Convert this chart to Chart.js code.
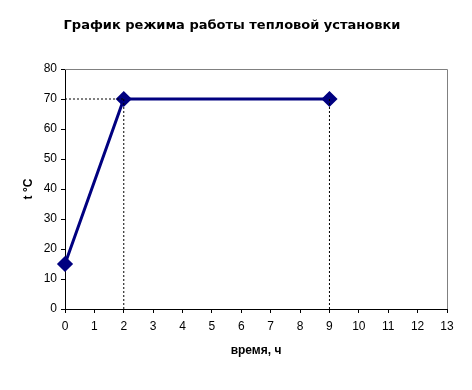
<!DOCTYPE html>
<html>
<head>
<meta charset="utf-8">
<script src="https://cdn.jsdelivr.net/npm/chart.js@4"></script>
<style>
    html, body { margin: 0; padding: 0; background: #fff; }
</style>
</head>
<body>
<canvas id="heatChart" width="472" height="390"></canvas>
<script>
const hours = [0, 2, 9];
const temps = [15, 70, 70];
const xMax = 13;
const yMax = 80;

const chartTitle = "График режима работы тепловой установки";
const xTitle = "время, ч";
const yTitle = "t °C";

// dotted guides: down from each plateau point, and across to the y axis at the first one
const guides = [];
guides.push([{ x: 0, y: temps[1] }, { x: hours[1], y: temps[1] }]);
for (let i = 1; i < hours.length; i++) {
    guides.push([{ x: hours[i], y: temps[i] }, { x: hours[i], y: 0 }]);
}

const frame = {
    id: "frame",
    beforeDatasetsDraw(c) {
        const a = c.chartArea;
        const ctx = c.ctx;
        ctx.save();
        ctx.strokeStyle = "#808080";
        ctx.lineWidth = 1;
        ctx.beginPath();
        ctx.moveTo(a.left, a.top + 0.5);
        ctx.lineTo(a.right + 0.5, a.top + 0.5);
        ctx.lineTo(a.right + 0.5, a.bottom);
        ctx.stroke();
        ctx.restore();
    }
};

Chart.defaults.font.family = "'Liberation Sans', Arial, sans-serif";
Chart.defaults.color = "#000";

const guideSets = guides.map(g => ({
    data: g,
    borderColor: "#000",
    borderWidth: 1,
    borderDash: [2, 2],
    pointRadius: 0,
    clip: false
}));

new Chart(document.getElementById("heatChart"), {
    type: "line",
    data: {
        datasets: [
            ...guideSets,
            {
                data: hours.map((h, i) => ({ x: h, y: temps[i] })),
                borderColor: "#000080",
                backgroundColor: "#000080",
                borderWidth: 3,
                pointStyle: "rectRot",
                pointRadius: 6,
                pointHoverRadius: 6,
                clip: false
            }
        ]
    },
    plugins: [frame],
    options: {
        responsive: false,
        animation: false,
        events: [],
        layout: { padding: { left: 17, right: 25, top: 0, bottom: 28 } },
        plugins: {
            legend: { display: false },
            tooltip: { enabled: false },
            title: {
                display: true,
                text: chartTitle,
                font: { family: "'DejaVu Sans', sans-serif", size: 13, weight: "bold" },
                padding: { top: 18, bottom: 35.4 }
            }
        },
        scales: {
            x: {
                type: "linear",
                min: 0,
                max: xMax,
                ticks: { stepSize: 1, autoSkip: false, font: { size: 12 }, padding: 6, maxRotation: 0 },
                grid: { drawOnChartArea: false, tickLength: 4, color: "#000" },
                border: { color: "#000" },
                title: { display: true, text: xTitle, font: { size: 12, weight: "bold" }, padding: 4 },
                afterFit(s) { s.height = 53; }
            },
            y: {
                min: 0,
                max: yMax,
                ticks: { stepSize: 10, font: { size: 12 }, padding: 4 },
                grid: { drawOnChartArea: false, tickLength: 4, color: "#000" },
                border: { color: "#000" },
                title: { display: true, text: yTitle, font: { size: 12, weight: "bold" }, padding: 4 },
                afterFit(s) { s.width = 48; }
            }
        }
    }
});
</script>
</body>
</html>
